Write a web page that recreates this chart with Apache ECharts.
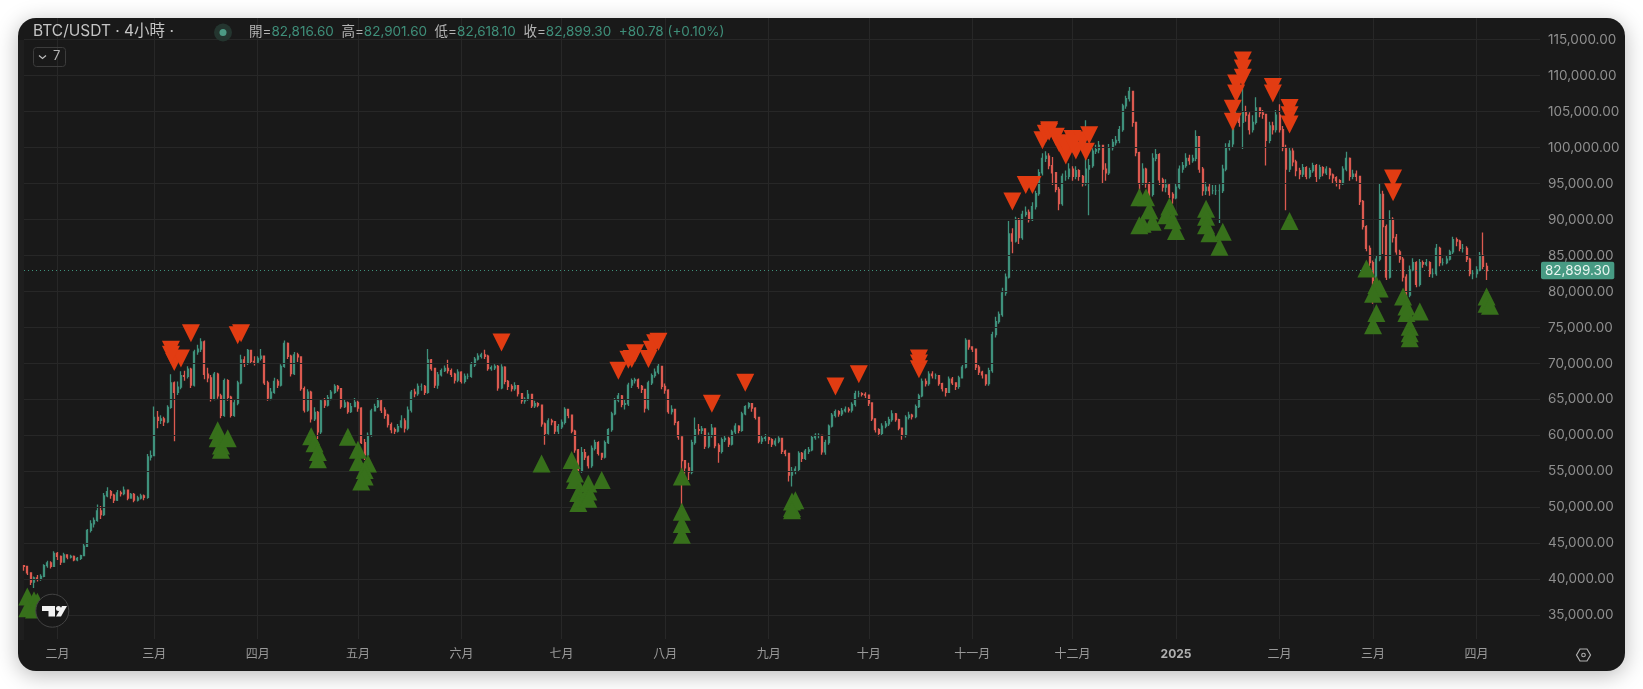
<!DOCTYPE html>
<html>
<head>
<meta charset="utf-8">
<title>BTC/USDT</title>
<script src="https://cdn.jsdelivr.net/npm/echarts@6/dist/echarts.min.js"></script>
<style>
  html, body { margin: 0; padding: 0; background: #fff; overflow: hidden; }
  #card { position: absolute; left: 18px; top: 18px; width: 1607px; height: 653px; background: #191919; border-radius: 18px; box-shadow: 0 4px 22px rgba(0,0,0,.28); }
  #chart { position: absolute; left: 0; top: 0; width: 1643px; height: 689px; }
</style>
</head>
<body>
<div id="card"></div>
<div id="chart"></div>
<script>
const startDate = '2024-01-22';
const slotCount = 455;
const firstOpen = 41.9;

// prices in thousands of USD, one row per ten days
const closes = [
  41.8,40.9,39.6,40.2,40.0,40.4,41.9,42.3,41.8,43.6,
  43.2,42.4,43.4,43.1,43.2,42.7,42.9,43.3,44.6,46.8,
  47.7,48.2,49.5,49.0,51.6,52.2,51.7,51.0,52.0,51.9,
  52.4,51.3,51.8,51.0,51.3,51.6,51.4,57.0,57.2,62.5,
  62.1,62.3,61.9,63.9,67.3,66.0,66.7,68.3,68.2,69.2,
  67.0,71.6,72.0,73.0,68.5,68.0,65.0,68.5,65.5,62.8,
  67.6,65.3,62.8,64.5,67.3,70.5,70.0,71.8,70.3,70.2,
  70.7,71.0,67.3,65.2,66.0,67.5,67.0,69.6,72.8,71.0,
  68.6,71.2,70.9,66.5,63.5,66.0,62.3,63.2,60.5,64.8,
  64.2,65.2,66.0,66.8,66.5,64.0,64.5,63.3,64.0,64.6,
  63.8,59.0,57.3,60.0,63.4,64.0,64.8,63.5,62.8,61.5,
  60.8,60.6,61.2,62.0,61.0,63.5,66.0,65.8,66.8,66.8,
  66.0,70.5,69.3,67.0,68.4,69.0,69.3,69.0,68.5,67.7,
  68.8,67.5,68.2,68.2,69.8,70.6,71.0,71.2,71.0,69.3,
  69.4,69.6,66.6,69.5,67.5,66.8,66.5,66.9,65.8,64.8,
  65.0,65.7,64.1,64.4,64.2,61.6,60.3,62.0,61.9,60.6,
  61.2,61.8,63.6,62.8,60.6,58.0,55.0,57.6,57.0,55.8,
  58.2,59.0,57.5,57.0,59.0,60.8,63.0,64.9,65.5,64.3,
  64.4,67.0,67.6,67.7,66.8,66.4,63.8,67.3,68.3,68.8,
  69.6,66.8,66.3,63.3,63.6,61.8,59.8,56.5,55.5,54.9,
  59.0,60.8,60.7,60.9,58.5,60.0,61.0,58.6,57.8,59.4,
  59.6,58.8,60.5,61.3,60.7,63.0,64.0,64.4,63.8,62.5,
  59.2,59.6,59.7,59.4,58.8,59.2,59.6,57.8,57.5,54.5,
  55.0,55.3,57.5,56.8,57.8,58.0,59.7,60.0,60.0,57.7,
  59.0,61.3,62.8,63.3,63.0,63.4,63.6,63.5,64.3,65.8,
  65.8,65.7,65.6,64.5,62.3,60.8,60.3,61.3,61.6,62.2,
  63.0,62.2,61.0,60.0,62.5,62.8,62.6,64.0,65.5,67.5,
  67.2,68.5,68.3,68.3,67.2,66.5,66.0,67.8,67.3,66.8,
  68.0,69.5,73.2,72.3,72.0,69.5,68.8,68.4,67.2,69.0,
  74.0,75.8,76.8,79.8,82.0,88.0,87.0,90.0,87.5,90.7,
  91.0,90.0,91.8,93.6,96.5,98.5,98.8,97.5,96.5,94.2,
  92.2,96.0,96.0,97.0,96.0,96.8,96.0,95.0,97.0,97.5,
  99.5,99.7,100.3,97.0,96.5,100.0,100.7,101.0,102.5,105.8,
  106.8,107.8,103.5,99.3,95.0,97.0,95.0,93.5,98.5,99.0,
  95.5,94.5,94.8,93.5,93.0,94.5,97.0,97.5,98.5,98.2,
  98.5,101.5,97.0,94.0,94.5,94.0,94.0,94.0,94.0,97.0,
  100.0,100.5,104.0,104.5,103.5,105.0,104.5,102.5,103.5,105.5,
  104.8,104.6,101.0,103.0,102.5,104.5,102.5,100.0,97.0,99.5,
  98.0,96.8,96.3,97.2,96.0,96.8,97.5,96.0,97.2,96.5,
  97.0,96.2,95.8,95.4,95.0,97.0,98.5,96.0,96.3,96.0,
  92.5,89.0,86.0,84.0,81.5,84.5,93.5,89.0,82.0,90.0,
  87.5,85.5,84.5,82.0,79.5,83.0,84.0,81.0,84.0,83.8,
  84.0,82.5,82.5,86.0,84.0,84.0,84.5,85.5,87.2,87.0,
  86.0,86.0,84.5,82.5,82.5,83.0,85.0,83.5,82.9
];
const highs = [
  42.0,41.9,41.0,40.4,40.6,40.7,42.1,42.6,42.5,43.9,
  43.8,43.3,43.7,43.5,43.4,43.3,43.1,43.4,44.9,47.0,
  48.2,48.6,50.4,50.2,52.0,52.8,52.4,51.9,52.4,52.3,
  52.9,52.5,52.0,52.0,51.6,51.9,51.8,57.4,57.9,64.0,
  63.4,62.8,62.6,64.2,68.5,67.5,67.5,68.9,69.0,69.6,
  69.4,71.9,72.6,73.5,73.2,69.4,68.4,68.8,68.7,65.8,
  67.9,67.8,65.5,65.0,67.6,71.2,71.0,72.0,71.9,71.0,
  71.0,72.0,71.1,67.6,66.6,68.0,67.8,69.9,73.2,72.9,
  71.2,71.6,71.5,71.0,66.8,66.4,66.2,63.9,63.4,65.0,
  65.2,65.6,66.3,67.1,67.0,66.6,65.0,64.7,64.5,65.2,
  64.8,63.9,59.5,60.4,63.7,64.4,65.2,65.0,63.9,63.0,
  61.8,61.1,61.6,62.8,62.4,64.0,66.3,66.5,67.2,67.2,
  67.0,72.0,70.6,69.4,68.8,69.3,69.7,70.5,69.3,68.7,
  69.2,68.9,68.6,68.6,70.2,70.9,71.4,71.5,71.9,71.2,
  69.7,69.9,69.8,69.9,69.6,67.7,67.1,67.4,67.0,65.9,
  65.3,66.3,65.8,64.8,64.6,64.3,61.8,62.4,62.3,62.0,
  61.6,62.2,63.9,63.6,62.9,60.8,58.1,58.4,58.1,57.2,
  58.6,59.4,59.2,57.6,59.3,61.0,63.3,65.2,65.9,65.6,
  65.0,67.3,67.9,68.0,67.9,67.0,66.5,67.6,68.6,69.3,
  70.0,69.6,67.2,66.4,64.2,63.7,62.0,59.9,56.6,56.2,
  59.4,62.5,61.6,61.3,61.0,60.4,61.6,61.0,58.9,59.7,
  60.0,59.8,60.8,61.7,61.4,63.3,64.2,64.6,64.5,63.9,
  62.5,60.0,60.2,59.8,59.6,59.6,59.9,59.6,58.0,57.6,
  55.6,55.7,57.8,57.7,58.1,58.4,60.0,60.3,60.3,60.0,
  59.4,61.5,63.1,63.6,63.5,63.8,64.0,63.9,64.6,66.2,
  66.2,66.0,66.0,65.7,64.5,62.4,61.0,61.7,62.0,62.6,
  63.5,63.1,62.3,61.0,62.8,63.3,63.0,64.3,65.8,67.9,
  67.9,68.9,68.9,68.6,68.4,67.3,66.5,68.2,68.1,67.4,
  68.3,69.8,73.5,73.3,72.4,72.0,69.8,69.0,68.5,69.4,
  74.4,76.5,77.2,80.5,82.5,89.8,88.8,90.4,90.2,91.2,
  91.8,91.4,92.4,94.0,97.0,99.2,99.5,99.2,98.7,96.5,
  94.5,96.4,96.8,97.8,97.4,97.4,97.0,96.2,103.8,98.4,
  99.9,100.4,100.9,100.4,97.8,100.5,101.2,101.6,103.0,106.1,
  107.2,108.4,107.8,103.6,99.4,97.8,97.2,95.2,99.2,99.8,
  99.2,95.8,95.6,95.0,93.8,95.0,97.5,98.0,99.2,99.0,
  99.0,102.4,101.5,97.3,95.2,95.0,94.8,94.8,94.9,97.6,
  100.6,101.0,105.9,105.0,104.8,109.6,105.8,104.9,104.5,107.0,
  105.6,105.2,104.7,103.6,103.6,105.2,106.0,103.0,100.4,100.0,
  99.9,98.3,97.2,97.7,97.4,97.2,97.9,97.7,97.6,97.4,
  97.4,97.2,96.4,96.0,95.6,97.4,99.4,98.6,96.9,96.8,
  96.0,92.7,89.2,86.4,84.3,85.0,95.0,94.0,89.3,91.3,
  90.3,88.0,85.8,84.8,82.4,83.6,84.6,84.2,84.5,84.3,
  84.5,84.2,83.2,86.6,86.2,84.6,85.0,85.8,87.6,87.5,
  87.2,86.6,86.3,84.7,83.0,83.5,85.5,88.2,84.0
];
const lows = [
  41.2,40.6,39.2,38.8,39.7,39.8,40.3,41.6,41.5,41.7,
  42.7,42.0,42.3,42.8,42.9,42.5,42.5,42.7,43.2,44.5,
  46.5,47.2,48.0,48.4,48.8,51.4,51.2,50.6,50.9,51.5,
  51.7,51.0,51.2,50.7,50.8,51.1,51.0,51.2,56.5,57.1,
  61.0,61.6,61.3,61.7,63.7,59.2,65.6,66.4,67.6,67.9,
  66.6,66.8,71.2,71.6,67.8,67.4,64.7,64.9,65.1,62.4,
  62.6,64.8,62.5,62.6,64.2,67.1,69.5,69.8,70.0,69.7,
  70.0,70.4,67.0,64.8,64.9,65.8,66.6,66.8,69.4,70.6,
  68.2,68.4,70.2,66.2,63.2,63.3,61.8,62.0,59.5,60.2,
  63.8,64.0,64.9,65.8,66.1,63.7,63.8,63.0,63.1,63.9,
  63.3,58.8,56.6,57.0,59.8,63.5,63.8,63.1,62.3,61.1,
  60.3,60.2,60.4,61.0,60.4,60.7,63.2,65.3,65.5,66.2,
  65.6,65.8,69.0,66.6,66.5,68.2,68.8,68.6,68.1,67.2,
  67.4,67.2,67.2,67.8,68.0,69.5,70.4,70.7,70.6,69.0,
  69.0,69.1,66.2,66.4,67.1,66.3,66.1,66.2,65.4,64.4,
  64.4,64.8,63.8,63.8,63.9,61.2,58.7,60.1,61.4,60.2,
  60.2,60.9,61.5,62.4,60.3,57.6,53.8,54.8,56.6,55.4,
  55.5,57.9,57.2,56.6,56.8,58.8,60.5,62.8,64.6,63.9,
  63.6,64.1,66.6,67.2,66.5,65.9,63.2,63.5,67.0,68.0,
  68.5,66.4,65.8,63.0,62.9,61.4,59.4,49.2,54.6,53.8,
  54.6,58.7,60.1,60.2,58.1,58.2,59.7,58.2,56.2,57.5,
  59.1,58.4,58.6,60.2,60.3,60.5,62.8,63.7,63.3,62.2,
  58.9,58.8,59.2,58.8,58.4,58.5,58.9,57.4,57.1,53.6,
  52.9,54.6,55.0,56.3,56.6,57.4,57.8,59.4,59.6,57.3,
  57.3,58.7,61.1,62.5,62.6,62.7,63.2,63.2,63.2,64.0,
  65.3,65.4,65.2,64.1,62.0,60.4,59.9,60.0,61.0,61.3,
  61.9,61.9,60.7,59.4,59.7,62.2,62.2,62.4,63.8,65.3,
  66.8,66.9,67.9,67.8,66.9,66.1,65.4,65.9,67.0,66.3,
  66.5,67.9,69.3,71.9,71.6,69.1,68.4,67.9,66.9,66.9,
  68.7,73.6,75.5,76.5,79.4,81.8,85.3,86.8,86.6,87.2,
  90.4,89.6,89.8,91.4,93.3,96.1,98.0,97.0,94.8,93.8,
  91.3,91.9,95.4,95.6,95.4,95.6,95.4,94.6,94.7,90.6,
  97.2,99.1,99.2,95.0,95.4,96.2,99.6,100.3,100.6,102.2,
  105.4,106.4,102.9,98.8,92.7,94.8,94.4,93.0,93.2,98.1,
  94.8,93.9,93.8,93.0,92.2,92.8,94.2,96.5,97.2,97.6,
  97.9,98.1,96.5,93.3,93.4,93.3,93.5,93.4,89.5,93.7,
  96.7,99.6,100.0,103.8,102.9,99.8,103.6,101.8,102.1,103.2,
  104.2,104.0,97.5,100.6,101.8,102.1,102.1,99.5,91.3,96.6,
  97.4,96.0,95.6,95.9,95.6,95.7,96.5,95.2,95.6,96.0,
  96.2,95.6,95.0,94.6,94.2,94.8,96.7,95.4,95.6,95.3,
  92.0,88.6,85.6,83.5,78.3,81.0,84.2,85.2,81.6,81.8,
  86.8,85.1,84.0,81.4,76.9,79.2,82.8,80.6,80.7,83.3,
  83.5,82.0,81.9,82.2,83.5,83.6,83.8,84.3,85.2,86.3,
  85.6,85.4,84.1,82.1,81.7,81.9,82.8,83.1,81.6
];

// signal markers: day slot and price (thousands)
const buySlots = [1,3,4,1,3, 58,58,59,59,61, 86,87,88,88,97,100,100,103,102,102,101,
  155,164,165,165,166,166,169,169,169,173, 197,197,197,197, 230,230,231,230,
  334,336,337,335,334,338,343,342,344,345,354,354,354,355,359,358,
  379,402,405,406,404,405,404,413,414,414,418,415,415,415,438,438,439];
const buyPrices = [37.6,37.1,36.9,36.0,35.8, 60.7,59.6,58.6,58.0,59.6, 59.9,58.9,57.7,56.7,59.8,58.0,56.3,56.1,55.2,54.3,53.6,
  56.1,56.6,54.7,53.8,52.0,50.6,53.3,52.2,51.2,53.8, 54.3,49.4,47.7,46.2, 50.8,49.9,51.0,49.6,
  93.1,93.1,91.3,89.4,89.2,89.7,91.8,90.6,89.9,88.4,91.5,90.4,89.2,88.1,88.3,86.2,
  89.8,83.2,80.9,80.4,79.7,77.0,75.3,79.3,77.9,77.0,77.2,75.1,74.2,73.5,79.3,78.3,78.0];
const sellSlots = [44,45,47,44,50,64,65, 143,178,181,183,182,187,188,189,190,206,216, 243,250,268,268,268,
  296,300,302,305,306,307,307,309,310,312,314,312,315,318,317,319,314,
  365,365,365,363,363,362,362, 374,374,379,379,379, 410,410];
const sellPrices = [71.9,70.2,70.7,71.2,74.2,73.9,74.2, 72.9,69.0,70.5,71.4,70.6,70.6,71.9,72.8,73.0,64.4,67.3, 66.8,68.5,70.7,70.0,69.2,
  92.5,94.8,94.8,101.0,101.9,102.4,102.2,101.5,100.6,98.9,101.2,100.1,99.6,99.4,101.0,101.7,100.5,
  112.1,111.0,109.7,108.9,107.5,105.4,103.6, 108.4,107.5,105.5,104.5,103.2, 95.7,93.8];

const priceTicks = [35000,40000,45000,50000,55000,60000,65000,70000,75000,80000,85000,90000,95000,100000,105000,110000,115000];
const monthNames = ['一月','二月','三月','四月','五月','六月','七月','八月','九月','十月','十一月','十二月'];
const lastPrice = 82899.3;
const ohlcLabels = ['開=','高=','低=','收='];
const ohlcValues = ['82,816.60','82,901.60','82,618.10','82,899.30'];
const changeText = '+80.78 (+0.10%)';

const UP = '#3f917c';
const DOWN = '#dc5a50';
const GRID = '#272727';
const FONT = 'Inter, "Noto Sans CJK TC", sans-serif';

let categories = [];
let d0 = Date.parse(startDate);
for (let i = 0; i < slotCount; i++) {
  categories.push(new Date(d0 + i * 86400000).toISOString().slice(0, 10));
}

let candles = [];
for (let i = 0; i < closes.length; i++) {
  let open = i == 0 ? firstOpen : closes[i - 1];
  candles.push([open * 1000, closes[i] * 1000, lows[i] * 1000, highs[i] * 1000]);
}

const isMonthStart = (index) => categories[index] && categories[index].slice(8) === '01';
const pairUp = (slots, prices) => slots.map((s, i) => [s, prices[i] * 1000]);

let richLine = '';
let richStyles = {
  l: { fill: '#b4b4b4', fontSize: 13.5, fontFamily: FONT },
  v: { fill: '#3f8f7a', fontSize: 13.5, fontFamily: FONT }
};
ohlcLabels.forEach((t, i) => {
  richLine += `{l|${t}}{v|${ohlcValues[i]}}{l|  }`;
});
richLine += `{v|${changeText}}`;

var myChart = echarts.init(document.getElementById('chart'), null, { renderer: 'canvas' });
var option = {
  animation: false,
  backgroundColor: 'transparent',
  grid: { left: 24, right: 103, top: 18, bottom: 50 },
  xAxis: {
    type: 'category',
    data: categories,
    boundaryGap: false,
    axisLine: { show: false },
    axisTick: { show: false },
    splitLine: { show: true, interval: isMonthStart, lineStyle: { color: GRID, width: 1 } },
    axisLabel: {
      interval: isMonthStart,
      hideOverlap: false,
      margin: 9,
      color: '#9a9a9a',
      fontSize: 12,
      fontFamily: FONT,
      formatter: (value) => {
        let month = +value.slice(5, 7);
        if (month == 1) {
          return '{y|' + value.slice(0, 4) + '}';
        }
        return monthNames[month - 1];
      },
      rich: { y: { color: '#b0b0b0', fontSize: 12, fontWeight: 'bold', fontFamily: FONT } }
    }
  },
  yAxis: {
    type: 'value',
    position: 'right',
    min: 31710,
    max: 118000,
    axisLine: { show: false },
    axisTick: { show: false },
    splitLine: { show: false },
    axisLabel: {
      customValues: priceTicks,
      margin: 8,
      color: '#8f8f8f',
      fontSize: 13.5,
      fontFamily: FONT,
      padding: [0, 0, 4, 0],
      formatter: (v) => v.toLocaleString('en-US', { minimumFractionDigits: 2, maximumFractionDigits: 2 })
    }
  },
  series: [
    {
      // horizontal grid at the price ticks
      type: 'line',
      data: [],
      z: 1,
      silent: true,
      markLine: {
        silent: true,
        symbol: 'none',
        animation: false,
        lineStyle: { color: GRID, type: 'solid', width: 1 },
        label: { show: false },
        data: priceTicks.map((v) => ({ yAxis: v }))
      }
    },
    {
      type: 'candlestick',
      data: candles,
      barWidth: 1.5,
      z: 2,
      itemStyle: { color: UP, color0: DOWN, borderColor: UP, borderColor0: DOWN, borderWidth: 1.3 },
      markLine: {
        silent: true,
        symbol: 'none',
        animation: false,
        lineStyle: { color: '#3f917c', type: [1, 3], width: 1 },
        label: {
          position: 'end',
          distance: 1,
          formatter: '82,899.30',
          color: '#e8f5f0',
          backgroundColor: '#479a83',
          padding: [2, 4, 2, 4],
          borderRadius: 2,
          fontSize: 13.5,
          fontFamily: FONT
        },
        data: [{ yAxis: lastPrice }]
      }
    },
    {
      type: 'scatter',
      name: 'buy',
      data: pairUp(buySlots, buyPrices),
      symbol: 'triangle',
      symbolSize: [18, 18],
      z: 5,
      itemStyle: { color: '#37701b', opacity: 1 }
    },
    {
      type: 'scatter',
      name: 'sell',
      data: pairUp(sellSlots, sellPrices),
      symbol: 'triangle',
      symbolRotate: 180,
      symbolSize: [18, 18],
      z: 6,
      itemStyle: { color: '#e23c12', opacity: 1 }
    }
  ],
  graphic: [
    { type: 'rect', z: 1, silent: true, shape: { x: 18, y: 40, width: 6, height: 600 }, style: { fill: '#1e1e1e' } },
    { type: 'text', z: 100, x: 33, y: 24, style: { text: 'BTC/USDT · 4小時 ·', fill: '#c4c4c4', fontSize: 15.5, fontFamily: FONT } },
    { type: 'circle', z: 100, shape: { cx: 223, cy: 32.5, r: 9 }, style: { fill: '#24352f' } },
    { type: 'circle', z: 101, shape: { cx: 223, cy: 32.5, r: 3.5 }, style: { fill: '#4c9a84' } },
    { type: 'text', z: 100, x: 249, y: 25, style: { text: richLine, rich: richStyles, fontFamily: FONT, fontSize: 13.5 } },
    { type: 'rect', z: 100, shape: { x: 33.5, y: 47.5, width: 32, height: 19, r: 3 }, style: { fill: 'none', stroke: '#3c3c3c', lineWidth: 1 } },
    { type: 'polyline', z: 100, shape: { points: [[39, 55.5], [42.5, 58.5], [46, 55.5]] }, style: { fill: 'none', stroke: '#bdbdbd', lineWidth: 1.2 } },
    { type: 'text', z: 100, x: 53, y: 50, style: { text: '7', fill: '#b4b4b4', fontSize: 13, fontFamily: FONT } },
    // logo badge
    { type: 'circle', z: 100, shape: { cx: 52.3, cy: 610.7, r: 16.5 }, style: { fill: '#181818', stroke: '#444', lineWidth: 1 } },
    { type: 'polygon', z: 101, shape: { points: [[42, 606], [55, 606], [55, 616.5], [48.5, 616.5], [48.5, 611], [42, 611]] }, style: { fill: '#f2f2f2' } },
    { type: 'circle', z: 101, shape: { cx: 58.5, cy: 608.5, r: 2.5 }, style: { fill: '#f2f2f2' } },
    { type: 'polygon', z: 101, shape: { points: [[62, 606], [67, 606], [61, 616.5], [56, 616.5]] }, style: { fill: '#f2f2f2' } },
    // settings icon
    { type: 'polygon', z: 100, shape: { points: [[1576.5, 655], [1580, 649], [1587, 649], [1590.5, 655], [1587, 661], [1580, 661]] }, style: { fill: 'none', stroke: '#b0b0b0', lineWidth: 1.2 } },
    { type: 'circle', z: 100, shape: { cx: 1583.5, cy: 655, r: 1.8 }, style: { fill: 'none', stroke: '#b0b0b0', lineWidth: 1.1 } }
  ]
};
myChart.setOption(option);
window.addEventListener('resize', myChart.resize);
</script>
</body>
</html>
